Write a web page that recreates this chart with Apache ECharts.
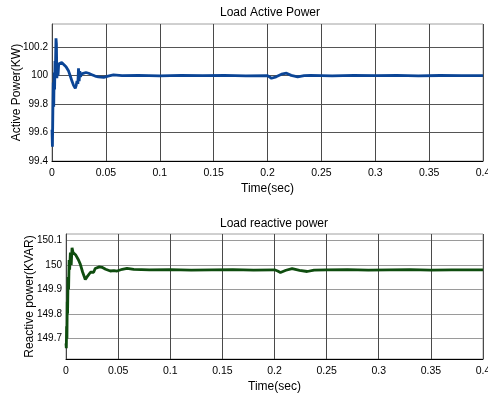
<!DOCTYPE html>
<html>
<head>
<meta charset="utf-8">
<script src="https://cdn.jsdelivr.net/npm/echarts@6/dist/echarts.min.js"></script>
<style>
html,body{margin:0;padding:0;background:#fff;}
#chart{width:488px;height:396px;}
</style>
</head>
<body>
<div id="chart"></div>
<script>
// ---- data ----
var titles = ['Load Active Power', 'Load reactive power'];
var yNames = ['Active Power(KW)', 'Reactive power(KVAR)'];
var xName = 'Time(sec)';
var xTicks = [0, 0.05, 0.1, 0.15, 0.2, 0.25, 0.3, 0.35, 0.4];
var activeTicks = [99.4, 99.6, 99.8, 100, 100.2];
var reactiveTicks = [149.7, 149.8, 149.9, 150, 150.1];

var activeTime = [0, 0.0004, 0.0008, 0.0012, 0.0016, 0.0020, 0.0024, 0.0028, 0.0032, 0.0037, 0.0041, 0.0045, 0.0050, 0.0056, 0.0062, 0.0075, 0.0090, 0.0108, 0.0130, 0.0154, 0.0172, 0.0185, 0.0200, 0.0216, 0.0225, 0.0232, 0.0240, 0.0246, 0.0252, 0.0258, 0.0264, 0.0275, 0.0290, 0.0315, 0.0340, 0.0370, 0.0400, 0.0430, 0.0480, 0.0520, 0.0570, 0.0650, 0.08, 0.10, 0.12, 0.14, 0.16, 0.18, 0.20, 0.2037, 0.2080, 0.2130, 0.2176, 0.2220, 0.2280, 0.2340, 0.2400, 0.26, 0.28, 0.30, 0.32, 0.34, 0.36, 0.38, 0.40];
var activeValues = [99.62, 99.50, 99.75, 99.95, 99.78, 100.02, 99.90, 100.10, 100.05, 100.26, 100.22, 99.98, 100.05, 100.00, 100.08, 100.09, 100.09, 100.08, 100.06, 100.03, 99.99, 99.96, 99.93, 99.91, 99.93, 99.96, 99.94, 100.05, 99.96, 100.03, 99.99, 100.01, 100.017, 100.02, 100.015, 100.005, 99.995, 99.99, 99.986, 99.995, 100.003, 99.998, 100.0, 99.997, 100.0, 99.998, 100.0, 99.997, 99.998, 99.98, 99.99, 100.008, 100.015, 100.0, 99.99, 99.998, 100.0, 99.997, 100.0, 99.998, 100.0, 99.997, 99.999, 99.998, 99.998];

var reactiveTime = [0, 0.0003, 0.0006, 0.0009, 0.0012, 0.0015, 0.0020, 0.0025, 0.0030, 0.0035, 0.0042, 0.0050, 0.0058, 0.0068, 0.0080, 0.0094, 0.0106, 0.0120, 0.0137, 0.0160, 0.0185, 0.0200, 0.0217, 0.0235, 0.0250, 0.0265, 0.0280, 0.0297, 0.0320, 0.0345, 0.0380, 0.0425, 0.0460, 0.0490, 0.0540, 0.0585, 0.065, 0.08, 0.10, 0.12, 0.14, 0.16, 0.18, 0.20, 0.2030, 0.2057, 0.2110, 0.2169, 0.2240, 0.2313, 0.2380, 0.25, 0.27, 0.29, 0.31, 0.33, 0.35, 0.37, 0.39, 0.40];
var reactiveValues = [149.68, 149.66, 149.75, 149.70, 149.85, 149.80, 149.95, 149.90, 150.02, 149.98, 150.05, 150.00, 150.07, 150.05, 150.055, 150.04, 150.045, 150.02, 150.003, 149.97, 149.94, 149.95, 149.955, 149.97, 149.978, 149.97, 149.985, 149.99, 149.992, 149.99, 149.982, 149.975, 149.977, 149.975, 149.982, 149.986, 149.982, 149.98, 149.981, 149.979, 149.98, 149.981, 149.979, 149.98, 149.975, 149.969, 149.978, 149.985, 149.978, 149.973, 149.979, 149.98, 149.981, 149.979, 149.98, 149.981, 149.979, 149.98, 149.98, 149.98];

function pairs(t, v) { return t.map(function (x, i) { return [x, v[i]]; }); }

var tickFont = '"Liberation Sans", Arial, sans-serif';
var mainFont = '"Liberation Sans", Arial, sans-serif';

function xAxisDef(gridIndex) {
  return {
    type: 'value', gridIndex: gridIndex, min: 0, max: 0.4, interval: 0.05,
    name: xName, nameLocation: 'middle', nameGap: 22, nameMoveOverlap: false,
    nameTextStyle: { color: '#000', fontSize: 12, fontFamily: mainFont },
    axisLine: { show: true, onZero: false, lineStyle: { color: '#000', width: 1 } },
    axisTick: { show: false },
    axisLabel: { color: '#000', fontSize: 10.5, fontFamily: tickFont, margin: 7,
      formatter: function (v) { return String(+v.toFixed(2)); } },
    splitLine: { show: true, lineStyle: { color: '#4a4a4a', width: 1 } }
  };
}
function yAxisDef(gridIndex, min, max, ticks, name, splitColor, gap) {
  return {
    type: 'value', gridIndex: gridIndex, min: min, max: max,
    name: name, nameLocation: 'middle', nameGap: gap, nameRotate: 90, nameMoveOverlap: false,
    nameTextStyle: { color: '#000', fontSize: 12, fontFamily: mainFont },
    axisLine: { show: true, lineStyle: { color: '#444', width: 1 } },
    axisTick: { show: false, customValues: ticks },
    axisLabel: { color: '#000', fontSize: 10, fontFamily: tickFont, margin: 4, customValues: ticks,
      formatter: function (v) { return String(+v.toFixed(2)); } },
    splitLine: { show: true, lineStyle: { color: splitColor, width: 1 } }
  };
}

var chart = echarts.init(document.getElementById('chart'), null, { renderer: 'canvas' });
chart.setOption({
  animation: false,
  backgroundColor: '#fff',
  graphic: [
    { type: 'text', x: 270, y: 13, style: { text: titles[0], fill: '#000', font: '12px ' + mainFont, textAlign: 'center', textVerticalAlign: 'middle' } },
    { type: 'text', x: 274, y: 224, style: { text: titles[1], fill: '#000', font: '12px ' + mainFont, textAlign: 'center', textVerticalAlign: 'middle' } }
  ],
  grid: [
    { left: 52, right: 5, top: 24, height: 137, show: true, borderColor: '#a0a0a0', borderWidth: 1, backgroundColor: '#fff', containLabel: false, outerBoundsMode: 'none' },
    { left: 66, right: 5, top: 234, height: 125, show: true, borderColor: '#a0a0a0', borderWidth: 1, backgroundColor: '#fff', containLabel: false, outerBoundsMode: 'none' }
  ],
  xAxis: [xAxisDef(0), xAxisDef(1)],
  yAxis: [
    yAxisDef(0, 99.4, 100.36, activeTicks, yNames[0], '#555', 29),
    yAxisDef(1, 149.616, 150.126, reactiveTicks, yNames[1], '#9a9a9a', 30)
  ],
  series: [
    { type: 'line', xAxisIndex: 0, yAxisIndex: 0, showSymbol: false, data: pairs(activeTime, activeValues),
      lineStyle: { color: '#0b4596', width: 2.8 }, z: 5 },
    { type: 'line', xAxisIndex: 1, yAxisIndex: 1, showSymbol: false, data: pairs(reactiveTime, reactiveValues),
      lineStyle: { color: '#0f4d0f', width: 2.8 }, z: 5 }
  ]
});
</script>
</body>
</html>
